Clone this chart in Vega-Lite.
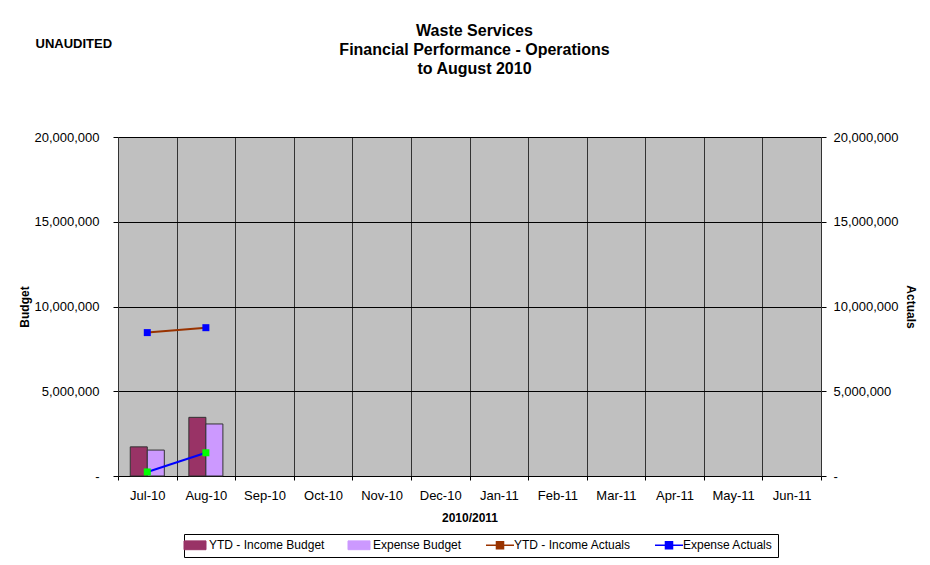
{
  "$schema": "https://vega.github.io/schema/vega-lite/v6.json",
  "autosize": "none",
  "width": 703,
  "height": 339,
  "padding": {"left": 118, "top": 137, "right": 109, "bottom": 89},
  "background": "white",
  "config": {
    "font": "Liberation Sans",
    "view": {"fill": "#C0C0C0", "stroke": null},
    "axis": {"labelFont": "Liberation Sans", "labelFontSize": 13, "labelColor": "#000", "titleFont": "Liberation Sans", "titleFontSize": 12, "titleFontWeight": "bold", "titleColor": "#000", "domainColor": "#000", "tickColor": "#000"},
    "legend": {"labelFont": "Liberation Sans", "labelFontSize": 12, "labelColor": "#000"}
  },
  "title": {
    "text": ["Waste Services", "Financial Performance - Operations", "to August 2010"],
    "font": "Liberation Sans",
    "fontSize": 16,
    "fontWeight": "bold",
    "lineHeight": 19,
    "offset": -40,
    "dx": 5,
    "anchor": "middle",
    "color": "#000"
  },
  "datasets": {
    "budget": [
      {"month": "Jul-10", "series": "YTD - Income Budget", "value": 1720000},
      {"month": "Jul-10", "series": "Expense Budget", "value": 1530000},
      {"month": "Aug-10", "series": "YTD - Income Budget", "value": 3460000},
      {"month": "Aug-10", "series": "Expense Budget", "value": 3070000}
    ],
    "actuals": [
      {"month": "Jul-10", "series": "YTD - Income Actuals", "value": 8460000},
      {"month": "Aug-10", "series": "YTD - Income Actuals", "value": 8750000},
      {"month": "Jul-10", "series": "Expense Actuals", "value": 240000},
      {"month": "Aug-10", "series": "Expense Actuals", "value": 1370000}
    ]
  },
  "layer": [
    {
      "data": {"name": "budget"},
      "mark": {"type": "bar", "stroke": "#333", "strokeWidth": 1},
      "encoding": {
        "x": {
          "field": "month", "type": "nominal",
          "scale": {"domain": ["Jul-10","Aug-10","Sep-10","Oct-10","Nov-10","Dec-10","Jan-11","Feb-11","Mar-11","Apr-11","May-11","Jun-11"], "paddingInner": 0, "paddingOuter": 0},
          "axis": {"title": "2010/2011", "orient": "bottom", "labelAngle": 0, "tickBand": "extent", "grid": true, "gridColor": "#333", "gridOpacity": 1, "tickSize": 4, "labelPadding": 9, "titlePadding": 10, "domainColor": "#000"}
        },
        "xOffset": {"field": "series", "type": "nominal", "scale": {"domain": ["YTD - Income Budget", "Expense Budget"], "paddingOuter": 0.72, "paddingInner": 0}},
        "y": {
          "field": "value", "type": "quantitative",
          "scale": {"domain": [0, 20000000], "nice": false},
          "axis": {"title": "Budget", "orient": "left", "values": [0, 5000000, 10000000, 15000000, 20000000], "labelExpr": "datum.value === 0 ? '-' : format(datum.value, ',')", "grid": true, "gridColor": "#000", "gridOpacity": 1, "tickSize": 5, "labelPadding": 14, "titlePadding": 2, "domainColor": "#333"}
        },
        "color": {
          "field": "series", "type": "nominal",
          "scale": {"domain": ["YTD - Income Budget", "Expense Budget", "YTD - Income Actuals", "Expense Actuals"], "range": ["#993366", "#CC99FF", "#993300", "#0000FF"]},
          "legend": {
            "title": null, "orient": "none", "legendX": 66, "legendY": 397, "direction": "horizontal", "columns": 4,
            "strokeColor": "#000", "fillColor": "#FFFFFF", "padding": 5, "columnPadding": 21, "labelOffset": 8, "symbolSize": 256, "symbolStrokeWidth": 1.5,
            "encode": {
              "legend": {"update": {"stroke": {"value": "#000000"}, "strokeWidth": {"value": 1}, "fill": {"value": "#FFFFFF"}}},
              "symbols": {"update": {
                "shape": {"signal": "indexof(['YTD - Income Budget','Expense Budget'], datum.value) >= 0 ? 'M-1.375,-0.55H1.375V0.55H-1.375Z' : 'M-1.75,0H-0.44M0.44,0H1.75M-0.44,-0.44H0.44V0.44H-0.44Z'"},
                "strokeWidth": {"signal": "indexof(['YTD - Income Budget','Expense Budget'], datum.value) >= 0 ? 1 : 1.5"},
                "opacity": {"value": 1},
                "fillOpacity": {"value": 1}
              }}
            }
          }
        }
      }
    },
    {
      "data": {"name": "actuals"},
      "layer": [
        {
          "mark": {"type": "line", "strokeWidth": 2},
          "encoding": {
            "x": {
              "field": "month", "type": "nominal",
              "scale": {"domain": ["Jul-10","Aug-10","Sep-10","Oct-10","Nov-10","Dec-10","Jan-11","Feb-11","Mar-11","Apr-11","May-11","Jun-11"]},
              "axis": {"orient": "top", "labels": false, "ticks": false, "domain": false, "grid": false, "title": "UNAUDITED", "titleFontSize": 13, "titleX": -83, "titleY": -90, "titleAlign": "left", "titleBaseline": "alphabetic", "titleAngle": 0}
            },
            "y": {
              "field": "value", "type": "quantitative",
              "scale": {"domain": [0, 20000000], "nice": false},
              "axis": {"title": "Actuals", "orient": "right", "values": [0, 5000000, 10000000, 15000000, 20000000], "labelExpr": "datum.value === 0 ? '-' : format(datum.value, ',')", "grid": false, "tickSize": 5, "labelPadding": 7, "titlePadding": 5, "domainColor": "#333"}
            },
            "color": {
              "field": "series", "type": "nominal",
              "scale": {"domain": ["YTD - Income Budget", "Expense Budget", "YTD - Income Actuals", "Expense Actuals"], "range": ["#993366", "#CC99FF", "#993300", "#0000FF"]},
              "legend": {
                "title": null, "orient": "none", "legendX": 66, "legendY": 397, "direction": "horizontal", "columns": 4,
                "strokeColor": "#000", "fillColor": "#FFFFFF", "padding": 5, "columnPadding": 21, "labelOffset": 8, "symbolSize": 256, "symbolStrokeWidth": 1.5,
                "encode": {
                  "legend": {"update": {"stroke": {"value": "#000000"}, "strokeWidth": {"value": 1}, "fill": {"value": "#FFFFFF"}}},
                  "symbols": {"update": {
                    "shape": {"signal": "indexof(['YTD - Income Budget','Expense Budget'], datum.value) >= 0 ? 'M-1.375,-0.55H1.375V0.55H-1.375Z' : 'M-1.75,0H-0.44M0.44,0H1.75M-0.44,-0.44H0.44V0.44H-0.44Z'"},
                    "strokeWidth": {"signal": "indexof(['YTD - Income Budget','Expense Budget'], datum.value) >= 0 ? 1 : 1.5"},
                    "opacity": {"value": 1},
                    "fillOpacity": {"value": 1}
                  }}
                }
              }
            }
          }
        },
        {
          "mark": {"type": "point", "shape": "square", "filled": true, "size": 49, "opacity": 1},
          "encoding": {
            "x": {
              "field": "month", "type": "nominal",
              "scale": {"domain": ["Jul-10","Aug-10","Sep-10","Oct-10","Nov-10","Dec-10","Jan-11","Feb-11","Mar-11","Apr-11","May-11","Jun-11"]},
              "axis": {"orient": "top", "labels": false, "ticks": false, "domain": false, "grid": false, "title": "UNAUDITED", "titleFontSize": 13, "titleX": -83, "titleY": -90, "titleAlign": "left", "titleBaseline": "alphabetic", "titleAngle": 0}
            },
            "y": {"field": "value", "type": "quantitative", "scale": {"domain": [0, 20000000], "nice": false}},
            "fill": {"condition": {"test": "datum.series === 'YTD - Income Actuals'", "value": "#0000FF"}, "value": "#00FF00"}
          }
        }
      ]
    }
  ],
  "resolve": {"scale": {"y": "independent"}, "axis": {"x": "independent", "y": "independent"}}
}
